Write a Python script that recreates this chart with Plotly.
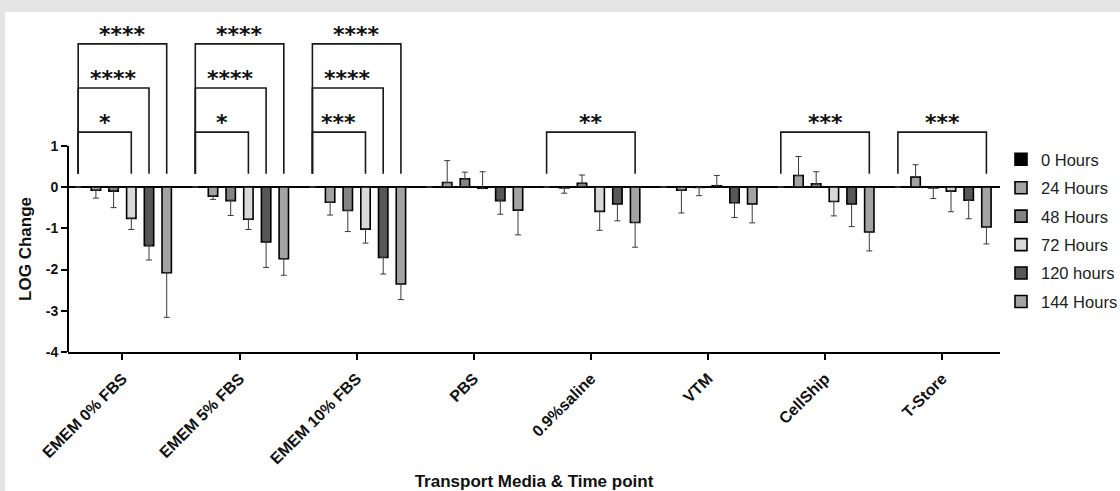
import plotly.graph_objects as go

# ---------------- data ----------------
categories = ["EMEM 0% FBS", "EMEM 5% FBS", "EMEM 10% FBS", "PBS",
              "0.9%saline", "VTM", "CellShip", "T-Store"]
series_names = ["0 Hours", "24 Hours", "48 Hours", "72 Hours", "120 hours", "144 Hours"]

h0 = [0, 0, 0, 0, 0, 0, 0, 0]
h24 = [-0.08, -0.22, -0.37, 0.11, -0.02, -0.08, 0.28, 0.24]
h48 = [-0.10, -0.33, -0.57, 0.20, 0.09, -0.01, 0.08, -0.02]
h72 = [-0.76, -0.78, -1.02, -0.03, -0.59, 0.03, -0.35, -0.10]
h120 = [-1.42, -1.33, -1.71, -0.33, -0.41, -0.38, -0.41, -0.32]
h144 = [-2.08, -1.74, -2.35, -0.56, -0.86, -0.41, -1.09, -0.97]

# signed error bars: positive = drawn upward, negative = drawn downward
e0 = [0, 0, 0, 0, 0, 0, 0, 0]
e24 = [-0.19, -0.08, -0.31, 0.53, -0.13, -0.55, 0.46, 0.30]
e48 = [-0.40, -0.36, -0.51, 0.16, 0.20, -0.20, 0.29, -0.26]
e72 = [-0.27, -0.25, -0.34, 0.40, -0.46, 0.25, -0.35, -0.50]
e120 = [-0.35, -0.62, -0.40, -0.33, -0.41, -0.36, -0.55, -0.45]
e144 = [-1.08, -0.40, -0.38, -0.60, -0.60, -0.46, -0.46, -0.41]

# significance: (category index, compared series index, bracket tier, label)
sig_group = [0, 0, 0, 1, 1, 1, 2, 2, 2, 4, 6, 7]
sig_series = [3, 4, 5, 3, 4, 5, 3, 4, 5, 5, 5, 5]
sig_tier = [1, 2, 3, 1, 2, 3, 1, 2, 3, 1, 1, 1]
sig_label = ["*", "****", "****", "*", "****", "****", "***", "****", "****",
             "**", "***", "***"]

y_ticks = [-4, -3, -2, -1, 0, 1]

# ---------------- style ----------------
values = [h0, h24, h48, h72, h120, h144]
errors = [e0, e24, e48, e72, e120, e144]
colors = ["#000000", "#a3a3a3", "#838383", "#d9d9d9", "#575757", "#a3a3a3"]

W, H = 1120, 491
ML, MR, MT, MB = 68, 120, 22, 139
PW, PH = W - ML - MR, H - MT - MB
BARGAP = 0.093
BARGROUPGAP = 0.47
tier_y = {1: 1.33, 2: 2.40, 3: 3.47}
leg_bottom = 0.32
FONT = "Liberation Sans, Arial, Helvetica, sans-serif"


def px_x(p):
    return (p - ML) / PW


def px_y(p):
    return (H - MB - p) / PH


fig = go.Figure()
for name, v, e, c in zip(series_names, values, errors, colors):
    up = [max(x, 0) for x in e]
    dn = [max(-x, 0) for x in e]
    fig.add_trace(go.Bar(
        name=name, x=categories, y=v,
        marker=dict(color=c, line=dict(color="#000000", width=1.6)),
        error_y=dict(type="data", symmetric=False, array=up, arrayminus=dn,
                     color="#3a3a3a", thickness=1, width=3, visible=True),
        legendgroup=name,
    ))

# bar centre offsets (in category units) derived from the grouping settings
n = len(series_names)
grp = 1 - BARGAP


def bar_x(i, k):
    return i - grp / 2 + (k + 0.5) * grp / n


shapes = []
annotations = []
for g, s, t, lab in zip(sig_group, sig_series, sig_tier, sig_label):
    x0, x1 = bar_x(g, 0), bar_x(g, s)
    ty = tier_y[t]
    shapes.append(dict(type="path", xref="x", yref="y",
                       path=f"M{x0},{leg_bottom} L{x0},{ty} L{x1},{ty} L{x1},{leg_bottom}",
                       line=dict(color="#1a1a1a", width=1.6)))
    annotations.append(dict(x=(x0 + x1) / 2, y=ty, xref="x", yref="y",
                            text=lab, showarrow=False, yanchor="bottom",
                            yshift=-5,
                            font=dict(family="DejaVu Sans", size=22, color="#111111",
                                      weight="bold")))

# y axis line only spans the tick range (-4 .. 1)
shapes.append(dict(type="line", xref="paper", yref="y", x0=0, x1=0,
                   y0=min(y_ticks), y1=max(y_ticks),
                   line=dict(color="#000000", width=2)))

# grey frame at top and left of the image
shapes.append(dict(type="rect", xref="paper", yref="paper", layer="below",
                   x0=px_x(0), x1=px_x(W), y0=px_y(12), y1=px_y(0),
                   line=dict(width=0), fillcolor="#e4e4e4"))
shapes.append(dict(type="rect", xref="paper", yref="paper", layer="below",
                   x0=px_x(0), x1=px_x(5), y0=px_y(H), y1=px_y(0),
                   line=dict(width=0), fillcolor="#e4e4e4"))

# y axis title centred on the tick range
annotations.append(dict(x=px_x(26), y=(min(y_ticks) + max(y_ticks)) / 2,
                        xref="paper", yref="y", text="LOG Change", textangle=-90,
                        showarrow=False, xanchor="center", yanchor="middle",
                        font=dict(family=FONT, size=17, color="#111111", weight="bold")))

fig.update_layout(
    width=W, height=H,
    margin=dict(l=ML, r=MR, t=MT, b=MB, autoexpand=False),
    paper_bgcolor="#ffffff", plot_bgcolor="#ffffff",
    barmode="group", bargap=BARGAP, bargroupgap=BARGROUPGAP,
    font=dict(family=FONT, color="#111111"),
    showlegend=True,
    legend=dict(xref="container", yref="container",
                x=1001 / W, y=1 - 142 / H, xanchor="left", yanchor="top",
                font=dict(family=FONT, size=16.5, color="#222222"),
                tracegroupgap=4, bgcolor="rgba(0,0,0,0)"),
    shapes=shapes, annotations=annotations,
    xaxis=dict(
        range=[-0.465, 7.494], showgrid=False, zeroline=False,
        showline=True, linecolor="#000000", linewidth=2,
        ticks="outside", ticklen=6, tickwidth=2, tickcolor="#000000",
        tickangle=-45, ticklabelstandoff=3,
        tickfont=dict(family=FONT, size=16, color="#111111", weight="bold"),
        title=dict(text="Transport Media & Time point", standoff=10,
                   font=dict(family=FONT, size=17, color="#111111", weight="bold")),
        automargin=False,
    ),
    yaxis=dict(
        range=[-4, 4], tickvals=y_ticks, ticktext=[str(v) for v in y_ticks],
        showgrid=False,
        zeroline=True, zerolinecolor="#000000", zerolinewidth=2,
        showline=False, ticks="outside", ticklen=6, tickwidth=2, tickcolor="#000000",
        tickfont=dict(family=FONT, size=14, color="#111111", weight="bold"),
        automargin=False,
    ),
)

fig.write_html("out.html")
